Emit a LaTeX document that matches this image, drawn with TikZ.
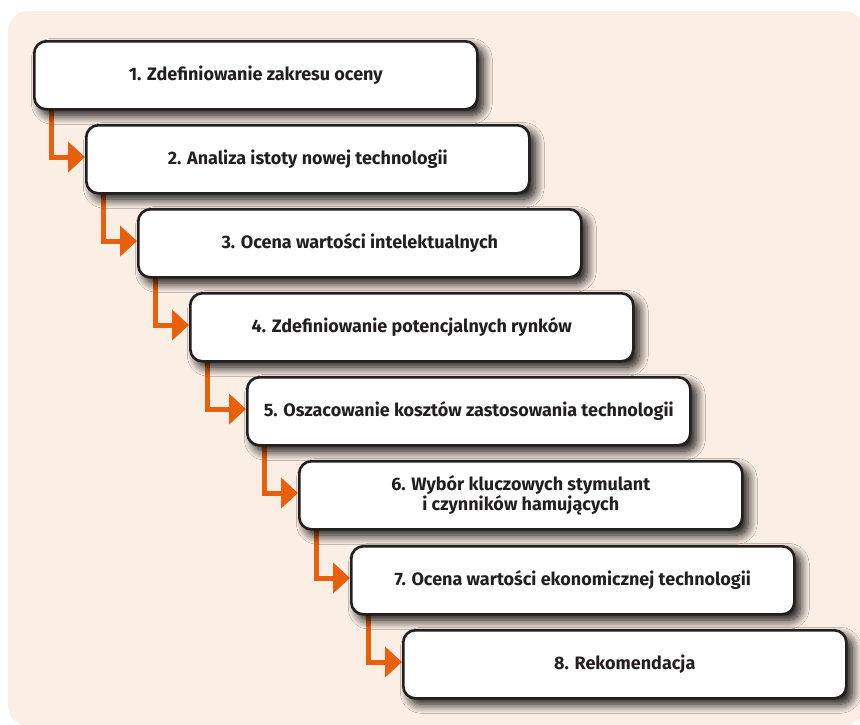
\documentclass[tikz,border=0pt]{standalone}
\usepackage{fontspec}
\setmainfont{Fira Sans}[BoldFont={Fira Sans Bold}]
\usetikzlibrary{arrows.meta,shadows.blur}

\definecolor{panel}{HTML}{FBEEE5}
\definecolor{flow}{HTML}{E8600C}
\definecolor{edge}{HTML}{231F20}

\tikzset{
  stepbox/.style={
    draw=edge, line width=2.6pt, fill=white, rounded corners=12pt,
    minimum width=443pt, minimum height=68pt, anchor=north west,
    inner sep=0pt, align=center,
    font=\fontsize{18}{18.5}\selectfont\bfseries,
    text=edge,
    blur shadow={shadow xshift=6pt, shadow yshift=-6pt,
                 shadow blur radius=9pt, shadow blur steps=12,
                 shadow opacity=95}
  },
  flowarrow/.style={
    draw=flow, line width=5pt,
    -{Triangle[length=17pt,width=30pt]}
  }
}

\begin{document}
\begin{tikzpicture}[x=1pt,y=-1pt]
  \useasboundingbox (0,0) rectangle (860,724);
  % panel behind the steps
  \begin{scope}
    \clip (0,0) rectangle (860,724);
    \fill[panel, rounded corners=20pt] (8,11) rectangle (864,726);
  \end{scope}

  % box positions (top-left corners)
  \coordinate (p1) at (33,40);
  \coordinate (p2) at (85,124);
  \coordinate (p3) at (137,208);
  \coordinate (p4) at (189,292);
  \coordinate (p5) at (246,376);
  \coordinate (p6) at (298,460);
  \coordinate (p7) at (350,545);
  \coordinate (p8) at (402,629);

  % connectors first, so the box shadows fall over them
  \foreach \i/\j in {1/2,2/3,3/4,4/5,5/6,6/7,7/8}{
    \path (p\i) ++(18,68) coordinate (s\i);
    \path (p\j) ++(0,33) coordinate (t\j);
    \draw[flowarrow] (s\i) |- (t\j);
  }

  \node[stepbox] (b1) at (p1) {1. Zdefiniowanie zakresu oceny};
  \node[stepbox] (b2) at (p2) {2. Analiza istoty nowej technologii};
  \node[stepbox] (b3) at (p3) {3. Ocena wartości intelektualnych};
  \node[stepbox] (b4) at (p4) {4. Zdefiniowanie potencjalnych rynków};
  \node[stepbox] (b5) at (p5) {5. Oszacowanie kosztów zastosowania technologii};
  \node[stepbox] (b6) at (p6) {6. Wybór kluczowych stymulant\\i czynników hamujących};
  \node[stepbox] (b7) at (p7) {7. Ocena wartości ekonomicznej technologii};
  \node[stepbox] (b8) at (p8) {8. Rekomendacja};
\end{tikzpicture}
\end{document}
